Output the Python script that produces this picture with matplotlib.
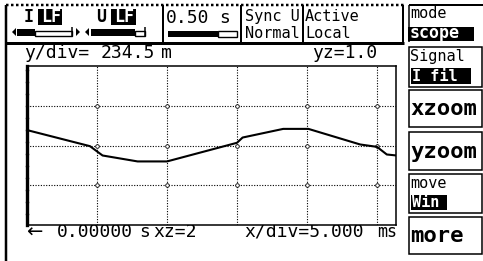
import matplotlib.pyplot as plt
from matplotlib.patches import Rectangle, Polygon

# waveform: time in ms, level in V
t_ms = [0.0, 4.5, 5.2, 5.4, 7.9, 10.0, 15.0, 15.4, 18.3, 20.1, 23.8, 25.0, 25.7, 26.4]
u_v = [0.091, -0.004, -0.047, -0.059, -0.094, -0.094, 0.016, 0.047,
       0.098, 0.098, 0.006, -0.008, -0.053, -0.059]

x_div = 5.0       # ms / div
y_div = 0.2345    # V / div
x_lines = [5, 10, 15, 20, 25]
y_lines = [-y_div, 0.0, y_div]

# right hand soft keys: (label, small header, inverted value)
keys = [("", "Signal", "I fil"), ("xzoom", "", ""), ("yzoom", "", ""),
        ("", "move", "Win"), ("more", "", "")]
key_rows = [(47, 87), (90, 127), (132, 170), (174, 213), (217, 254)]

MONO = "DejaVu Sans Mono"
W, H = 483, 261

fig = plt.figure(figsize=(W / 100, H / 100), dpi=100)
fig.set_facecolor("white")

# screen layer in pixel units
bg = fig.add_axes([0, 0, 1, 1])
bg.set_xlim(0, W)
bg.set_ylim(H, 0)
bg.axis("off")


def txt(x, y, s, size=12, color="k", weight="normal"):
    bg.text(x, y, s, fontsize=size, family=MONO, color=color,
            weight=weight, ha="left", va="baseline")


def inv(x0, y0, x1, y1, s, size=11, dx=2, base=None):
    bg.add_patch(Rectangle((x0, y0), x1 - x0, y1 - y0, color="k", lw=0))
    txt(x0 + dx, base if base else y1 - 3, s, size, color="white", weight="bold")


def line(xs, ys, px=1.5, **kw):
    bg.plot(xs, ys, color="k", lw=px * 0.72, solid_capstyle="butt", **kw)


# frame of the screen
line([6, 6], [5, H], 2.5)
line([6, 404], [5, 5], 2.5, ls=(0, (1, 1)))
line([6, 404], [42.5, 42.5], 3)
for xd in [163, 241, 303, 403]:
    line([xd, xd], [5, 42], 2)
line([409, 483], [5, 5], 2)
line([409, 409], [5, 42], 1.5)

# status bar
txt(24, 22, "I", 12, weight="bold")
inv(38, 9, 62, 25, "LF", 12, dx=3, base=22)
txt(96, 22, "U", 12, weight="bold")
inv(111, 9, 136, 25, "LF", 12, dx=3, base=22)

bg.add_patch(Polygon([[12, 32], [16, 28], [16, 36]], color="k", lw=0))
bg.add_patch(Rectangle((17, 29), 18, 7, color="k", lw=0))
bg.add_patch(Rectangle((35, 31), 37, 5, fill=False, ec="k", lw=1))
line([72, 72], [27, 36], 1.5)
bg.add_patch(Polygon([[80, 32], [76, 28], [76, 36]], color="k", lw=0))
bg.add_patch(Polygon([[85, 32], [89, 28], [89, 36]], color="k", lw=0))
bg.add_patch(Rectangle((91, 29), 44, 7, color="k", lw=0))
bg.add_patch(Rectangle((135, 31), 10, 5, fill=False, ec="k", lw=1))
line([145, 145], [27, 36], 1.5)

txt(166, 23, "0.50", 13)
txt(219, 23, "s", 13)
bg.add_patch(Rectangle((168, 31), 50, 6, color="k", lw=0))
bg.add_patch(Rectangle((218, 31), 19, 6, fill=False, ec="k", lw=1))

txt(245, 21, "Sync U", 11)
txt(245, 38, "Normal", 11)
txt(305, 21, "Active", 11)
txt(305, 38, "Local", 11)

txt(410, 18, "mode", 11)
inv(408, 27, 474, 41, "scope", 12, dx=2, base=38)

# soft keys
for (big, head, val), (y0, y1) in zip(keys, key_rows):
    bg.add_patch(Rectangle((408.5, y0), 73.5, y1 - y0, fill=False, ec="k", lw=1.1))
    if big:
        txt(410, y1 - 12, big, 16, weight="bold")
    else:
        txt(410, y0 + 14, head, 11)
        inv(411, y0 + 21, 411 + 12 * len(val), y1 - 3, val, 11, dx=1)

# scale readouts
txt(24, 58, "y/div=", 13)
txt(101, 58, "234.5", 13)
txt(161, 58, "m", 13)
txt(312, 58, "yz=1.0", 13)

bg.text(26, 238, "\u2190", fontsize=14, family="DejaVu Sans", va="baseline")
txt(57, 237, "0.00000", 13)
txt(139, 237, "s", 13)
txt(153, 237, "xz=2", 13)
txt(244, 237, "x/div=5.000", 13)
txt(377, 237, "ms", 12)

# scope trace area
L, T, R, B = 27, 66, 396, 225
ax = fig.add_axes([L / W, 1 - B / H, (R - L) / W, (B - T) / H])
ax.set_xlim(0, (R - L) / 70 * x_div)
ax.set_ylim(-2 * y_div, 2 * y_div)
ax.set_xticks(x_lines)
ax.set_yticks(y_lines)
ax.tick_params(length=0, labelbottom=False, labelleft=False)
ax.grid(True, color="k", lw=0.8, ls=(0, (1, 1.4)))
for name, sp in ax.spines.items():
    sp.set_linewidth(1.1)
ax.spines["left"].set_linewidth(2.4)
ax.spines["left"].set_linestyle((0, (3, 0.6)))

gx = [x for x in x_lines for _ in y_lines]
gy = [y for _ in x_lines for y in y_lines]
ax.plot(gx, gy, ls="none", marker="o", ms=2.6, mfc="white", mec="k", mew=0.6)

ax.plot(t_ms, u_v, color="k", lw=1.5)

fig.savefig("out.png", dpi=100, facecolor="white")
